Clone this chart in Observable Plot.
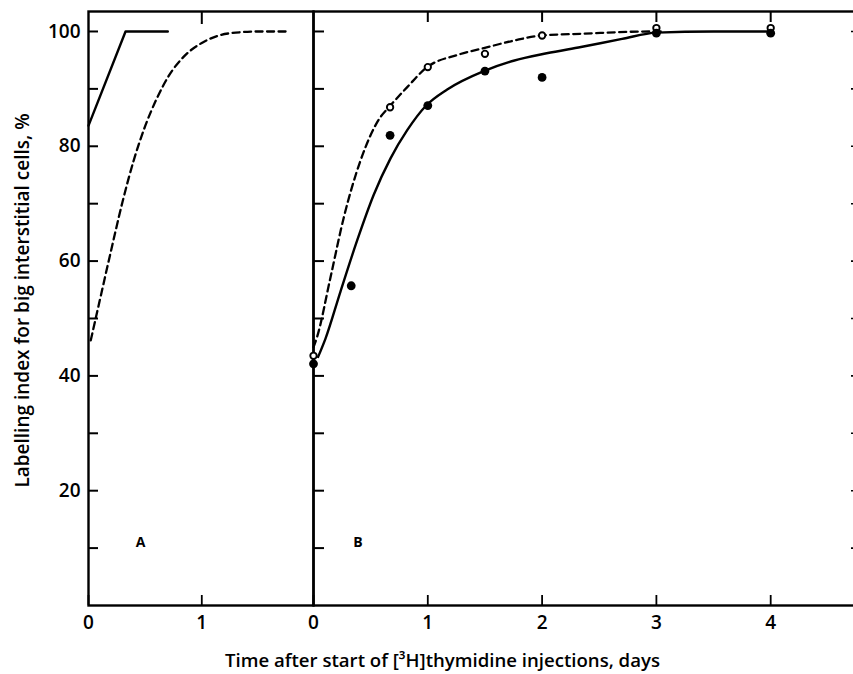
<!DOCTYPE html>
<html>
<head>
<meta charset="utf-8">
<script src="https://cdn.jsdelivr.net/npm/d3@7"></script>
<script src="https://cdn.jsdelivr.net/npm/@observablehq/plot@0.6"></script>
<style>
  html, body { margin: 0; padding: 0; background: #fff; }
  #fig { position: relative; width: 853px; height: 674px; overflow: hidden; background: #fff; }
  #fig svg { position: absolute; left: 0; top: 0; }
</style>
</head>
<body>
<div id="fig"></div>
<script>
// ---- Panel A: idealised labelling curves ----
const aFastDays  = [0, 0.327, 0.70];
const aFastIndex = [83.6, 100, 100];
const aSlowDays  = [0.02, 0.1, 0.2, 0.3, 0.4, 0.5, 0.6, 0.7, 0.85, 1.0, 1.15, 1.3, 1.5, 1.74];
const aSlowIndex = [46.2, 53.2, 61.9, 70.3, 77.6, 83.5, 88.2, 92.0, 95.8, 98.0, 99.3, 99.8, 100, 100];

// ---- Panel B: observed labelling indices ----
const bFilledDays  = [0, 0.33, 0.67, 1, 1.5, 2, 3, 4];
const bFilledIndex = [42.1, 55.7, 81.9, 87.1, 93.1, 92.0, 99.7, 99.7];
const bOpenDays    = [0, 0.67, 1, 1.5, 2, 3, 4];
const bOpenIndex   = [43.5, 86.8, 93.8, 96.1, 99.3, 100.6, 100.6];

// fitted curves through the two series
const bSolidFitDays  = [0.04, 0.105, 0.236, 0.382, 0.528, 0.674, 0.82, 0.986, 1.17, 1.49, 1.75, 2.04, 2.34, 2.7, 3.0, 3.5, 4.0];
const bSolidFitIndex = [43.3, 46.5, 54.7, 63.6, 71.6, 77.9, 82.8, 87.1, 89.9, 93.1, 94.9, 96.2, 97.3, 98.7, 99.8, 100, 100];
const bDashedFitDays  = [0.0, 0.03, 0.149, 0.265, 0.411, 0.586, 0.659, 0.82, 0.995, 1.257, 1.49, 1.75, 1.99, 2.34, 2.95, 3.06];
const bDashedFitIndex = [45.0, 46.7, 57.2, 67.6, 77.5, 85.1, 86.8, 90.3, 93.8, 95.9, 97.1, 98.4, 99.3, 99.6, 100, 100];

// ---- axes ----
const yAllTicks   = [10, 20, 30, 40, 50, 60, 70, 80, 90, 100];
const yMajorTicks = [20, 40, 60, 80, 100];
const aDayTicks   = [0, 1];
const bDayTicks   = [0, 1, 2, 3, 4];
const panelNames  = ["A", "B"];
const yTitle = "Labelling index for big interstitial cells, %";
const xTitle = "Time after start of [\u00B3H]thymidine injections, days";

const zip = (xs, ys) => xs.map((x, i) => ({x, y: ys[i]}));

const W = 853, H = 674;
const TOP = 11, BOTTOM = 605, A_LEFT = 88, SPLIT = 313, B_RIGHT = 855;
const FONT = "'Open Sans', Lato, 'DejaVu Sans', sans-serif";
const yDomain = [0, 103.48];
const ink = "#000";

const svgStyle = {
  fontFamily: FONT, fontSize: "19px", fontWeight: 600, color: ink,
  background: "transparent", maxWidth: "none", overflow: "visible"
};
const fmtMajor = d => yMajorTicks.includes(d) ? String(d) : "";
const fmtDay = d => String(d);
const blank = () => "";

const panelA = Plot.plot({
  width: W, height: H,
  marginTop: TOP, marginBottom: H - BOTTOM, marginLeft: A_LEFT, marginRight: W - SPLIT,
  style: svgStyle,
  x: {domain: [0, 1.986]},
  y: {domain: yDomain},
  marks: [
    Plot.frame({stroke: ink, strokeWidth: 2.4}),
    Plot.axisY(yAllTicks, {anchor: "left", tickSize: -10, tickPadding: 18, strokeWidth: 2,
      tickFormat: fmtMajor, label: null}),
    Plot.axisX(aDayTicks, {anchor: "bottom", tickSize: -10, tickPadding: 20, strokeWidth: 1.8,
      tickFormat: fmtDay, label: null}),
    Plot.axisX([1], {anchor: "top", tickSize: -12, strokeWidth: 2, tickFormat: blank, label: null}),
    Plot.line(zip(aFastDays, aFastIndex), {x: "x", y: "y", stroke: ink, strokeWidth: 2.4}),
    Plot.line(zip(aSlowDays, aSlowIndex), {x: "x", y: "y", stroke: ink, strokeWidth: 2.3,
      strokeDasharray: "7,4.5", curve: "monotone-x"}),
    Plot.text([panelNames[0]], {text: d => d, x: 0.46, y: 11, fontSize: 14, fontWeight: "bold"}),
    Plot.text([yTitle], {text: d => d, frameAnchor: "left", rotate: -90, dx: -66, dy: -8,
      textAnchor: "middle", fontSize: 19})
  ]
});

const panelB = Plot.plot({
  width: B_RIGHT + 2, height: H,
  marginTop: TOP, marginBottom: H - BOTTOM, marginLeft: SPLIT, marginRight: 2,
  style: svgStyle,
  x: {domain: [0, 4.742]},
  y: {domain: yDomain},
  marks: [
    Plot.frame({stroke: ink, strokeWidth: 2.4}),
    Plot.axisY(yAllTicks, {anchor: "left", tickSize: -11, strokeWidth: 2, tickFormat: blank, label: null}),
    Plot.axisY(yAllTicks, {anchor: "right", tickSize: -5, strokeWidth: 1.6, tickFormat: blank, label: null}),
    Plot.axisX(bDayTicks, {anchor: "bottom", tickSize: -10, tickPadding: 20, strokeWidth: 1.8,
      tickFormat: fmtDay, label: null}),
    Plot.axisX(bDayTicks.slice(1), {anchor: "top", tickSize: -10, strokeWidth: 2, tickFormat: blank, label: null}),
    Plot.line(zip(bDashedFitDays, bDashedFitIndex), {x: "x", y: "y", stroke: ink, strokeWidth: 2.3,
      strokeDasharray: "7,4.5", curve: "monotone-x"}),
    Plot.line(zip(bSolidFitDays, bSolidFitIndex), {x: "x", y: "y", stroke: ink, strokeWidth: 2.4,
      curve: "monotone-x"}),
    Plot.dot(zip(bOpenDays, bOpenIndex), {x: "x", y: "y", r: 3.2, fill: "#fff", stroke: ink, strokeWidth: 1.9}),
    Plot.dot(zip(bFilledDays, bFilledIndex), {x: "x", y: "y", r: 4.4, fill: ink, stroke: "none"}),
    Plot.text([panelNames[1]], {text: d => d, x: 0.39, y: 11, fontSize: 14, fontWeight: "bold"}),
    Plot.text([xTitle], {text: d => d, frameAnchor: "bottom-left", dx: 129, dy: 61,
      textAnchor: "middle", fontSize: 18.6})
  ]
});

const fig = document.getElementById("fig");
fig.append(panelA, panelB);
</script>
</body>
</html>
